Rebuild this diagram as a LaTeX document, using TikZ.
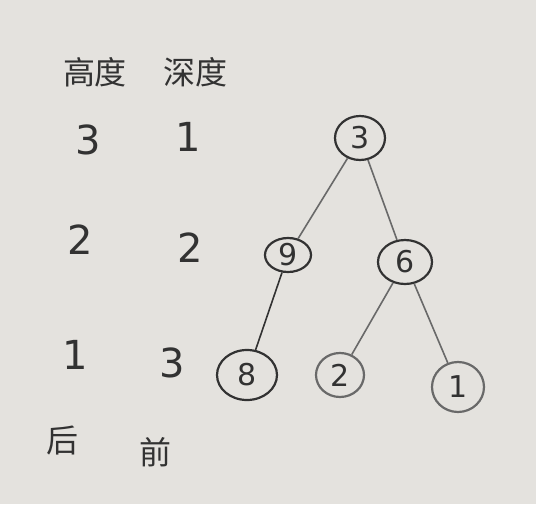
\documentclass[tikz,border=0pt]{standalone}
\usepackage{fontspec}
\setmainfont{DejaVu Sans}
\newfontfamily\cjk{Noto Sans CJK SC}
\usetikzlibrary{shapes.geometric}
\definecolor{board}{RGB}{228,226,222}
\definecolor{ink}{RGB}{50,50,50}
\definecolor{inkl}{RGB}{105,105,105}
\tikzset{
  tnode/.style={ellipse,draw=ink,line width=2.2pt,inner sep=0pt,font=\fontsize{30}{30}\selectfont,text=ink},
  edge/.style={draw=inkl,line width=1.6pt},
  lbl/.style={font=\fontsize{40}{40}\selectfont,text=ink,inner sep=0pt},
  hdr/.style={font=\cjk\fontsize{32}{32}\selectfont,text=ink,inner sep=0pt}
}
\begin{document}
\begin{tikzpicture}[x=1pt,y=-1pt]
\fill[board] (0,0) rectangle (536,504);
\useasboundingbox (0,0) rectangle (536,504);
% table
\node[hdr] (h1) at (95,72) {高度};
\node[hdr] (h2) at (195,72) {深度};
\node[lbl] (a1) at (88,140) {3};
\node[lbl] (b1) at (188,137) {1};
\node[lbl] (a2) at (80,240) {2};
\node[lbl] (b2) at (190,248) {2};
\node[lbl] (a3) at (75,355) {1};
\node[lbl] (b3) at (172,363) {3};
\node[hdr] (f1) at (62,440) {后};
\node[hdr] (f2) at (155,452) {前};
% tree
\node[tnode,minimum width=50,minimum height=44] (n3) at (360,138) {3};
\node[tnode,minimum width=46,minimum height=34] (n9) at (288,255) {9};
\node[tnode,minimum width=54,minimum height=44] (n6) at (405,262) {6};
\node[tnode,minimum width=60,minimum height=50] (n8) at (247,375) {8};
\node[tnode,minimum width=48,minimum height=44,draw=inkl] (n2) at (340,375) {2};
\node[tnode,minimum width=52,minimum height=50,draw=inkl] (n1) at (458,387) {1};
\draw[edge] (n3) -- (n9);
\draw[edge] (n3) -- (n6);
\draw[edge,draw=ink] (n9) -- (n8);
\draw[edge] (n6) -- (n2);
\draw[edge] (n6) -- (n1);
\end{tikzpicture}
\end{document}
